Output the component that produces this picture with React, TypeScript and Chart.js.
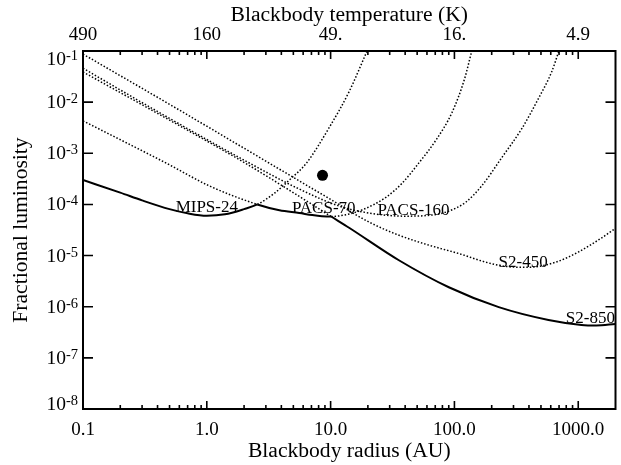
import { useEffect, useRef } from 'react';
import Chart from 'chart.js/auto';

const serif = '"Liberation Serif", "Times New Roman", Times, serif';

// blackbody radius (AU) / fractional luminosity
const mips24R = [0.1, 0.2, 0.3, 0.5, 0.7, 1.0, 1.4, 2.0, 2.56, 3.52, 4.64, 6.37, 9.75, 14.1, 19.7];
const mips24F = [3.0e-4, 1.7e-4, 1.2e-4, 8.1e-5, 6.7e-5, 6.0e-5, 6.4e-5, 8.1e-5, 1.0e-4, 1.66e-4, 3.0e-4, 6.4e-4, 3.2e-3, 1.6e-2, 1.0e-1];

const pacs70R = [0.1, 0.218, 0.466, 1.05, 2.56, 3.86, 5.58, 7.11, 8.5, 10.1, 12.9, 17.9, 28.0, 37.8, 51.7, 70.8, 95.4, 121, 138];
const pacs70F = [4.3e-3, 1.66e-3, 6.5e-4, 2.3e-4, 1.0e-4, 7.7e-5, 6.8e-5, 6.2e-5, 5.9e-5, 5.8e-5, 6.2e-5, 7.8e-5, 1.38e-4, 2.6e-4, 6.5e-4, 1.8e-3, 6.2e-3, 2.9e-2, 1.0e-1];

const pacs160R = [0.1, 0.466, 2.05, 5.58, 11.7, 20.3, 39.6, 69.0, 90.1, 123, 166, 241, 352, 479, 610, 694];
const pacs160F = [4.6e-2, 5.3e-3, 7.1e-4, 2.0e-4, 9.3e-5, 6.8e-5, 5.9e-5, 6.3e-5, 7.4e-5, 1.1e-4, 2.3e-4, 8.2e-4, 3.1e-3, 1.2e-2, 3.9e-2, 9.6e-2];

const s2450R = [0.1, 0.561, 3.2, 9.75, 20.5, 35.6, 62.2, 115, 167, 250, 397, 655, 1000, 1538, 1995];
const s2450F = [8.7e-2, 7.7e-3, 6.4e-4, 1.3e-4, 4.5e-5, 2.5e-5, 1.6e-5, 1.05e-5, 7.8e-6, 6.2e-6, 5.9e-6, 7.4e-6, 1.17e-5, 2.2e-5, 3.4e-5];

const s2850R = [0.1, 0.466, 2.05, 4.64, 10.1, 14.1, 35.6, 90.1, 228, 575, 1062, 1400, 1995];
const s2850F = [3.9e-2, 4.9e-3, 6.4e-4, 1.9e-4, 5.8e-5, 3.5e-5, 8.1e-6, 2.4e-6, 9.8e-7, 5.5e-7, 4.4e-7, 4.3e-7, 4.6e-7];

// where each curve is the lower envelope (drawn solid)
const mips24Solid = [0.1, 2.56];
const pacs70Solid = [2.56, 10.1];
const s2850Solid = [10.1, 2000];

const dotR = [8.6];
const dotF = [3.7e-4];

const xMajor = [0.1, 1, 10, 100, 1000];
const radiusTickLabels = ['0.1', '1.0', '10.0', '100.0', '1000.0'];
const tempTickLabels = ['490', '160', '49.', '16.', '4.9'];
const yExponents = [-8, -7, -6, -5, -4, -3, -2, -1];

const curveLabels = [
  { text: 'MIPS-24', r: 1.0, f: 7.0e-5 },
  { text: 'PACS-70', r: 8.8, f: 6.8e-5 },
  { text: 'PACS-160', r: 46.7, f: 6.2e-5 },
  { text: 'S2-450', r: 359, f: 5.9e-6 },
  { text: 'S2-850', r: 1253, f: 4.8e-7 },
];

const dotted = [1.5, 1.9];

const inside = (c: any, range?: number[]) =>
  !!range && c.p0.parsed.x >= range[0] * 0.999 && c.p1.parsed.x <= range[1] * 1.001;

function curve(label: string, r: number[], f: number[], solid?: number[]) {
  return {
    label,
    data: r.map((x, i) => ({ x, y: f[i] })),
    borderColor: '#000',
    borderWidth: 1.5,
    borderDash: dotted,
    borderCapStyle: 'butt',
    pointRadius: 0,
    cubicInterpolationMode: 'monotone',
    segment: {
      borderDash: (c: any) => (inside(c, solid) ? [] : dotted),
      borderWidth: (c: any) => (inside(c, solid) ? 2 : 1.5),
    },
  };
}

// frame with inward ticks, superscript y labels and curve names
const framePlugin = {
  id: 'frame',
  afterDatasetsDraw(chart: any) {
    const { ctx, chartArea: a, scales } = chart;
    const xs = scales.x;
    const ys = scales.y;
    const xMax = xs.max;
    ctx.save();
    ctx.strokeStyle = '#000';
    ctx.fillStyle = '#000';

    ctx.lineWidth = 1.6;
    ctx.beginPath();
    for (const d of xMajor) {
      const px = xs.getPixelForValue(d);
      ctx.moveTo(px, a.bottom); ctx.lineTo(px, a.bottom - 8);
      ctx.moveTo(px, a.top); ctx.lineTo(px, a.top + 8);
      for (let k = 2; k <= 9; k++) {
        if (k * d >= xMax) break;
        const pm = xs.getPixelForValue(k * d);
        ctx.moveTo(pm, a.bottom); ctx.lineTo(pm, a.bottom - 4);
        ctx.moveTo(pm, a.top); ctx.lineTo(pm, a.top + 4);
      }
    }
    for (const e of yExponents) {
      const py = ys.getPixelForValue(Math.pow(10, e));
      ctx.moveTo(a.left, py); ctx.lineTo(a.left + 10, py);
      ctx.moveTo(a.right, py); ctx.lineTo(a.right - 10, py);
    }
    ctx.stroke();

    ctx.lineWidth = 2;
    ctx.strokeRect(a.left, a.top, a.right - a.left, a.bottom - a.top);

    ctx.textAlign = 'left';
    ctx.textBaseline = 'alphabetic';
    for (const e of yExponents) {
      let py = ys.getPixelForValue(Math.pow(10, e));
      if (py < a.top + 8) py = a.top + 8;
      if (py > a.bottom - 5) py = a.bottom - 5;
      const sup = '-' + Math.abs(e);
      ctx.font = '14.5px ' + serif;
      const sw = ctx.measureText(sup).width;
      const supLeft = a.left - 5 - sw;
      ctx.fillText(sup, supLeft, py + 1);
      ctx.font = '19.5px ' + serif;
      const bw = ctx.measureText('10').width;
      ctx.fillText('10', supLeft - bw, py + 6);
    }

    ctx.font = '17px ' + serif;
    ctx.textAlign = 'center';
    for (const l of curveLabels) {
      ctx.fillText(l.text, xs.getPixelForValue(l.r), ys.getPixelForValue(l.f));
    }
    ctx.restore();
  },
};

export default function App() {
  const canvasRef = useRef<HTMLCanvasElement | null>(null);

  useEffect(() => {
    if (!canvasRef.current) return;
    const tickFont = { family: serif, size: 19 };
    const titleFont = { family: serif, size: 21.6 };

    const chart = new Chart(canvasRef.current, {
      type: 'line',
      data: {
        datasets: [
          curve('MIPS-24', mips24R, mips24F, mips24Solid),
          curve('PACS-70', pacs70R, pacs70F, pacs70Solid),
          curve('PACS-160', pacs160R, pacs160F),
          curve('S2-450', s2450R, s2450F),
          curve('S2-850', s2850R, s2850F, s2850Solid),
          {
            label: 'source',
            data: dotR.map((x, i) => ({ x, y: dotF[i] })),
            showLine: false,
            pointRadius: 5.5,
            pointBackgroundColor: '#000',
            pointBorderWidth: 0,
            borderColor: '#000',
          },
        ] as any,
      },
      options: {
        animation: false,
        responsive: true,
        maintainAspectRatio: false,
        layout: { padding: { left: 0, right: 5, top: 0, bottom: 0 } },
        plugins: { legend: { display: false }, tooltip: { enabled: false } },
        scales: {
          x: {
            type: 'logarithmic',
            position: 'bottom',
            min: 0.1,
            max: 2000,
            afterBuildTicks: (s: any) => { s.ticks = xMajor.map((v) => ({ value: v })); },
            afterFit: (s: any) => { s.height = 56; },
            ticks: {
              autoSkip: false, maxRotation: 0, minRotation: 0, padding: 10,
              color: '#000', font: tickFont,
              callback: (_v: any, i: number) => radiusTickLabels[i],
            },
            grid: { display: false, drawTicks: false },
            border: { display: false },
            title: { display: true, text: 'Blackbody radius (AU)', color: '#000', font: titleFont, padding: { top: 0, bottom: 1 } },
          },
          x2: {
            type: 'logarithmic',
            position: 'top',
            min: 0.1,
            max: 2000,
            afterBuildTicks: (s: any) => { s.ticks = xMajor.map((v) => ({ value: v })); },
            afterFit: (s: any) => { s.height = 51; },
            ticks: {
              autoSkip: false, maxRotation: 0, minRotation: 0, padding: 5,
              color: '#000', font: tickFont,
              callback: (_v: any, i: number) => tempTickLabels[i],
            },
            grid: { display: false, drawTicks: false },
            border: { display: false },
            title: { display: true, text: 'Blackbody temperature (K)', color: '#000', font: titleFont, padding: { top: 2.5, bottom: 0 } },
          },
          y: {
            type: 'logarithmic',
            position: 'left',
            min: 1e-8,
            max: 1e-1,
            afterFit: (s: any) => { s.width = 83; },
            ticks: { display: false },
            grid: { display: false, drawTicks: false },
            border: { display: false },
            title: { display: true, text: 'Fractional luminosity', color: '#000', font: titleFont, padding: { top: 8, bottom: 0 } },
          },
        },
      } as any,
      plugins: [framePlugin],
    });

    return () => chart.destroy();
  }, []);

  return (
    <div style={{ position: 'absolute', left: 0, top: 0, width: 621, height: 465 }}>
      <canvas ref={canvasRef} />
    </div>
  );
}
